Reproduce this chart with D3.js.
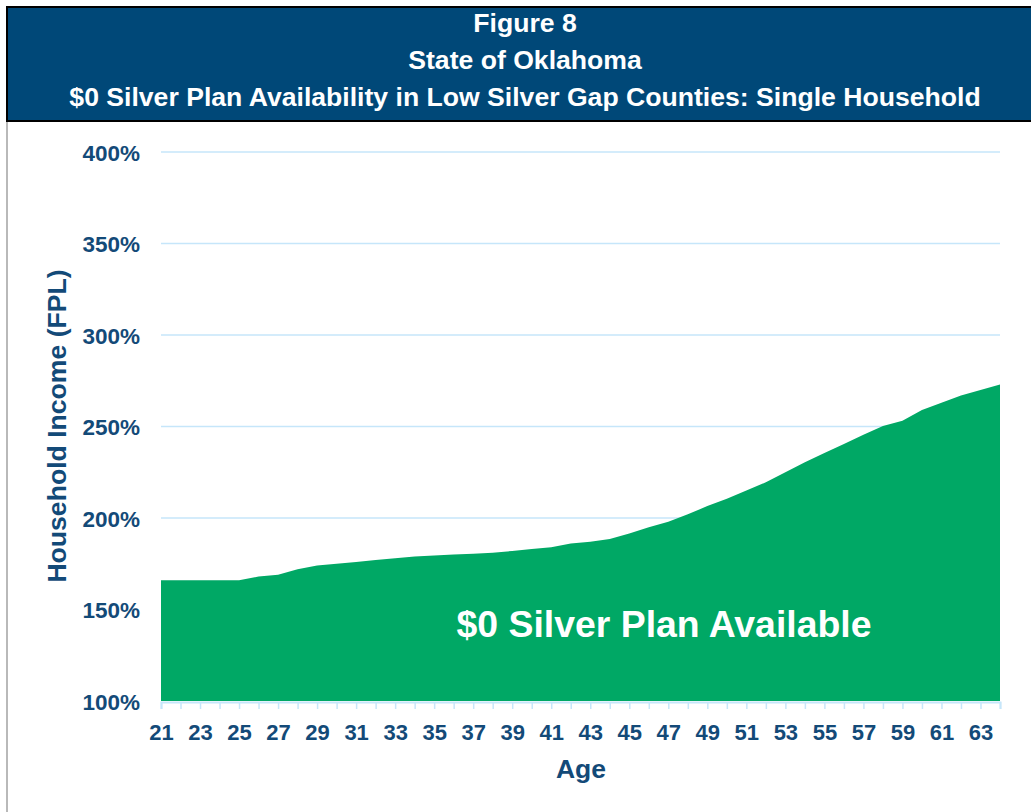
<!DOCTYPE html>
<html><head><meta charset="utf-8">
<script src="https://cdn.jsdelivr.net/npm/d3@7"></script>
<style>
html,body{margin:0;padding:0;background:#fff;}
svg{display:block;font-family:"Liberation Sans",Arial,sans-serif;font-weight:bold;}
</style></head>
<body>
<svg id="chart" width="1031" height="812"></svg>
<script>
const titleLines = ["Figure 8", "State of Oklahoma", "$0 Silver Plan Availability in Low Silver Gap Counties: Single Household"];
const ages = [21,22,23,24,25,26,27,28,29,30,31,32,33,34,35,36,37,38,39,40,41,42,43,44,45,46,47,48,49,50,51,52,53,54,55,56,57,58,59,60,61,62,63,64];
const fplValues = [166,166,166,166,166,168,169,172,174,175,176,177,178,179,179.5,180,180.5,181,182,183,184,186,187,188.5,191.5,195,198,202,206.5,210.5,215,219.5,225,230.4,235.5,240.5,245.5,250.3,253.2,259,263,267,270,273];
const yTicks = [100,150,200,250,300,350,400];
const areaLabel = "$0 Silver Plan Available";
const xTitle = "Age";
const yTitle = "Household Income (FPL)";

const svg = d3.select("#chart");
const textColor = "#134a78";
const gridColor = "#c6e6fa";
const green = "#00a865";

// header
svg.append("line").attr("x1",7).attr("x2",7).attr("y1",120).attr("y2",812)
  .attr("stroke","#8a8a8a").attr("stroke-width",1.2);
svg.append("rect").attr("x",7).attr("y",7).attr("width",1030).attr("height",114)
  .attr("fill","#004878").attr("stroke","#000").attr("stroke-width",2);
const baselines = [32, 69, 106];
titleLines.forEach((t,i) => {
  svg.append("text").attr("x",525).attr("y",baselines[i]).attr("text-anchor","middle")
    .attr("fill","#fff").attr("font-size",26.6).text(t);
});

const x = d3.scalePoint().domain(ages).range([161,1000]);
const y = d3.scaleLinear().domain([100,400]).range([701,152]);

// gridlines
svg.append("g").selectAll("line").data(yTicks.filter(d=>d>100)).join("line")
  .attr("x1",161).attr("x2",1000).attr("y1",d=>y(d)).attr("y2",d=>y(d))
  .attr("stroke",gridColor).attr("stroke-width",1.6);

// area
const area = d3.area().x((d,i)=>x(ages[i])).y0(y(100)).y1(d=>y(d));
svg.append("path").datum(fplValues).attr("d",area).attr("fill",green);

// x axis
const xAxis = svg.append("g").attr("transform",`translate(0,${y(100)+1})`)
  .call(d3.axisBottom(x).tickSize(7).tickFormat(d => d%2===1 ? d : ""));
xAxis.select(".domain").attr("stroke",gridColor).attr("stroke-width",2);
xAxis.selectAll(".tick line").attr("stroke",gridColor).attr("stroke-width",1.5);
xAxis.selectAll(".tick text").attr("fill",textColor).attr("font-size",22)
  .attr("font-family","Liberation Sans, Arial, sans-serif").attr("font-weight","bold")
  .attr("dy",0).attr("y",38);

// y axis labels
const yAxis = svg.append("g").attr("transform","translate(140,0)")
  .call(d3.axisLeft(y).tickValues(yTicks).tickSize(0).tickPadding(0).tickFormat(d=>d+"%"));
yAxis.select(".domain").remove();
yAxis.selectAll(".tick text").attr("fill",textColor).attr("font-size",22.5)
  .attr("font-family","Liberation Sans, Arial, sans-serif").attr("font-weight","bold")
  .attr("dy","0.36em");

// titles
svg.append("text").attr("x",581).attr("y",778).attr("text-anchor","middle")
  .attr("fill",textColor).attr("font-size",26.5).text(xTitle);
svg.append("text").attr("transform","translate(66,426) rotate(-90)").attr("text-anchor","middle")
  .attr("fill",textColor).attr("font-size",26.6).text(yTitle);

// in-area label
svg.append("text").attr("x",664).attr("y",637).attr("text-anchor","middle")
  .attr("fill","#fff").attr("font-size",37.4).text(areaLabel);
</script>
</body></html>
